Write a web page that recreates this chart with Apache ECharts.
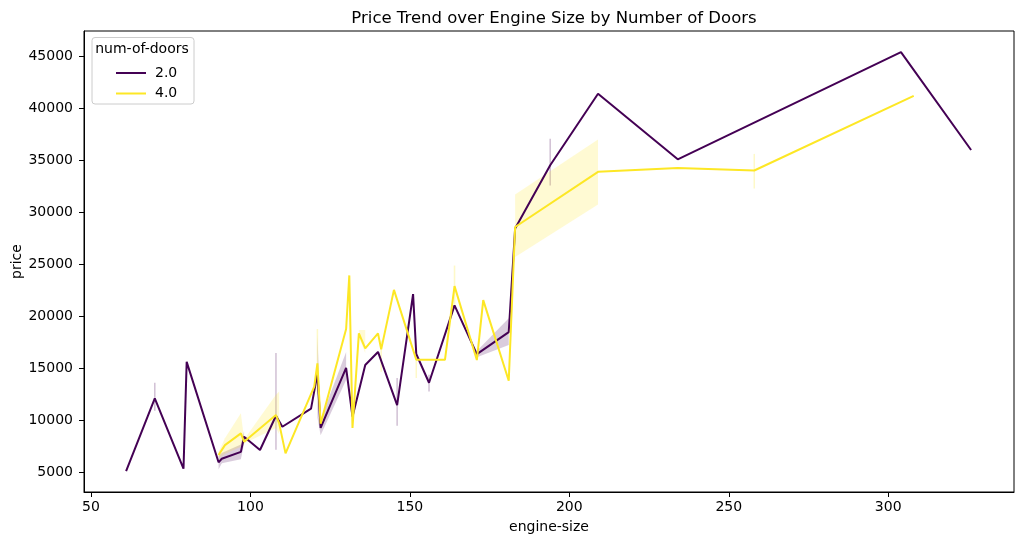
<!DOCTYPE html>
<html>
<head>
<meta charset="utf-8">
<title>Price Trend over Engine Size by Number of Doors</title>
<script src="https://cdn.jsdelivr.net/npm/echarts@6.0.0/dist/echarts.min.js"></script>
<style>
    html, body { margin: 0; padding: 0; background: #fff; }
    #chart { width: 1023px; height: 545px; }
</style>
</head>
<body>
<div id="chart"></div>
<script>
// num-of-doors = 2.0
var size2  = [61, 70, 79, 80, 90, 91, 97, 98, 103, 108, 110, 119, 121, 122, 130, 132, 136, 140, 146, 151, 152, 156, 164, 171, 181, 183, 194, 209, 234, 304, 326];
var price2 = [5151, 12145, 5389, 15645, 6000, 6340, 7000, 8450, 7180, 10470, 9416, 11150, 14500, 9300, 15070, 10376, 15340, 16600, 11500, 22150, 16400, 13640, 21070, 16395, 18500, 28460, 34530, 41400, 35100, 45400, 36000];
var low2   = [null, 10945, null, null, 5300, 5900, 6300, 7800, null, 7200, null, null, 10300, 8600, 13900, null, null, null, 9500, null, null, 12800, null, 16100, 17260, null, 32590, null, null, null, null];
var high2  = [null, 13645, null, null, 6600, 6900, 7700, 9000, null, 16500, null, null, 18300, 10100, 16600, null, null, null, 14100, null, null, 14400, null, 16700, 19830, null, 37070, null, null, null, null];

// num-of-doors = 4.0
var size4  = [90, 92, 97, 98, 108, 109, 111, 120, 121, 122, 130, 131, 132, 134, 136, 140, 141, 145, 152, 161, 164, 171, 173, 181, 183, 209, 234, 258, 308];
var price4 = [6700, 7650, 8780, 7980, 10540, 9740, 6860, 13260, 15500, 9700, 18800, 23950, 9300, 18380, 16940, 18380, 16850, 22560, 15850, 15850, 22920, 15820, 21580, 13830, 28600, 33900, 34280, 34030, 41200];
var low4   = [6400, 6800, 7500, 7800, 9300, 8700, null, null, 12500, null, null, null, null, 18000, 16500, null, 14700, null, 14100, null, 21000, null, null, null, 25710, 30760, null, 32300, null];
var high4  = [7000, 8300, 10700, 8200, 12500, 12800, null, null, 18800, null, null, null, null, 18700, 18700, null, 17700, null, 16300, null, 24900, null, null, null, 31730, 37000, null, 35620, null];

var xTicks = [50, 100, 150, 200, 250, 300];
var yTicks = [5000, 10000, 15000, 20000, 25000, 30000, 35000, 40000, 45000];

var purple = '#440154';
var yellow = '#fde725';
var font = 'DejaVu Sans';

function toPoints(xs, ys) {
    return xs.map(function (x, i) { return [x, ys[i]]; });
}

// pieces of the confidence band: quads between neighbours, a thin stroke where a point stands alone
function bandPieces(xs, lo, hi) {
    var out = [];
    for (var i = 0; i < xs.length; i++) {
        if (lo[i] == null) continue;
        var hasNext = i + 1 < xs.length && lo[i + 1] != null;
        var hasPrev = i > 0 && lo[i - 1] != null;
        if (hasNext) {
            out.push([xs[i], lo[i], hi[i], xs[i + 1], lo[i + 1], hi[i + 1]]);
        } else if (!hasPrev) {
            out.push([xs[i], lo[i], hi[i], xs[i], lo[i], hi[i]]);
        }
    }
    return out;
}

function bandSeries(name, xs, lo, hi, color) {
    return {
        name: name,
        type: 'custom',
        z: 1,
        silent: true,
        encode: { x: [0, 3], y: [1, 2, 4, 5] },
        data: bandPieces(xs, lo, hi),
        renderItem: function (params, api) {
            var x0 = api.value(0), x1 = api.value(3);
            var a = api.coord([x0, api.value(1)]);
            var b = api.coord([x0, api.value(2)]);
            var c = api.coord([x1, api.value(5)]);
            var d = api.coord([x1, api.value(4)]);
            if (x0 === x1) {
                return {
                    type: 'line',
                    shape: { x1: a[0], y1: a[1], x2: b[0], y2: b[1] },
                    style: { stroke: color, lineWidth: 1.5, opacity: 0.25 }
                };
            }
            return {
                type: 'polygon',
                shape: { points: [a, b, c, d] },
                style: { fill: color, opacity: 0.2 }
            };
        }
    };
}

function lineSeries(name, xs, ys, color, z) {
    return {
        name: name,
        type: 'line',
        z: z,
        showSymbol: false,
        symbol: 'none',
        itemStyle: { color: color },
        lineStyle: { color: color, width: 2 },
        data: toPoints(xs, ys)
    };
}

var chart = echarts.init(document.getElementById('chart'));
var option = {
    animation: false,
    backgroundColor: '#fff',
    textStyle: { fontFamily: font },
    title: {
        text: 'Price Trend over Engine Size by Number of Doors',
        left: 549,
        top: 5,
        textAlign: 'center',
        textStyle: { fontFamily: font, fontSize: 16.5, fontWeight: 'normal', color: '#000' }
    },
    grid: {
        left: 84, right: 9, top: 31, bottom: 53,
        outerBoundsMode: 'none',
        show: true, borderColor: '#000', borderWidth: 1, backgroundColor: 'transparent'
    },
    legend: {
        orient: 'vertical',
        left: 111,
        top: 61,
        z: 100,
        itemWidth: 30,
        itemHeight: 2,
        itemGap: 6.5,
        icon: 'rect',
        data: ['2.0', '4.0'],
        textStyle: { fontFamily: font, fontSize: 14, color: '#000', padding: [0, 0, 0, 4] }
    },
    graphic: [
        {
            type: 'rect', z: 50,
            shape: { x: 92, y: 37.5, width: 102, height: 66.5, r: 3 },
            style: { fill: 'rgba(255,255,255,0.8)', stroke: '#cccccc', lineWidth: 1 }
        },
        {
            type: 'text', z: 51,
            x: 142, y: 49.5,
            style: { text: 'num-of-doors', font: '14px "DejaVu Sans"', fill: '#000', align: 'center', verticalAlign: 'middle' }
        }
    ],
    xAxis: {
        type: 'value',
        min: 47.8,
        max: 339.45,
        name: 'engine-size',
        nameLocation: 'middle',
        nameGap: 28,
        nameMoveOverlap: false,
        nameTextStyle: { fontFamily: font, fontSize: 14, color: '#000' },
        axisLine: { show: true, onZero: false, lineStyle: { color: '#000', width: 1 } },
        axisTick: { show: true, length: 5, customValues: xTicks, lineStyle: { color: '#000' } },
        axisLabel: { customValues: xTicks, margin: 8, fontFamily: font, fontSize: 14, color: '#000' },
        splitLine: { show: false }
    },
    yAxis: {
        type: 'value',
        min: 3147,
        max: 47429,
        name: 'price',
        nameLocation: 'middle',
        nameGap: 60,
        nameMoveOverlap: false,
        nameTextStyle: { fontFamily: font, fontSize: 14, color: '#000' },
        axisLine: { show: true, onZero: false, lineStyle: { color: '#000', width: 1 } },
        axisTick: { show: true, length: 5, customValues: yTicks, lineStyle: { color: '#000' } },
        axisLabel: {
            customValues: yTicks, margin: 11, fontFamily: font, fontSize: 14, color: '#000',
            formatter: function (v) { return String(v); }
        },
        splitLine: { show: false }
    },
    series: [
        bandSeries('band-2.0', size2, low2, high2, purple),
        bandSeries('band-4.0', size4, low4, high4, yellow),
        lineSeries('2.0', size2, price2, purple, 3),
        lineSeries('4.0', size4, price4, yellow, 4)
    ]
};
chart.setOption(option);
</script>
</body>
</html>
